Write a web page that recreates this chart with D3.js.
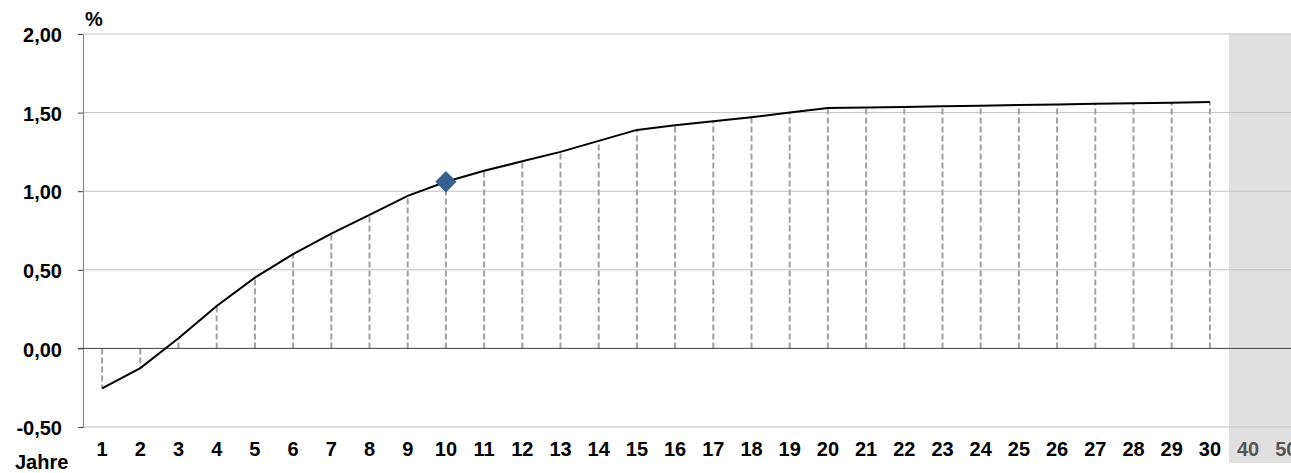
<!DOCTYPE html>
<html>
<head>
<meta charset="utf-8">
<script src="https://cdn.jsdelivr.net/npm/d3@7"></script>
<style>
  body { margin: 0; background: #fff; }
  svg { display: block; font-family: "Liberation Sans", Arial, sans-serif; }
</style>
</head>
<body>
<div id="chart"></div>
<script>
// categories (years), the last two sit in the grey extension zone
const years = ['1','2','3','4','5','6','7','8','9','10','11','12','13','14','15','16','17','18','19','20','21','22','23','24','25','26','27','28','29','30','40','50']
const extraYears = ['40', '50']
// curve values in %
const values = [-0.255, -0.125, 0.065, 0.27, 0.45, 0.60, 0.73, 0.85, 0.97, 1.06, 1.13, 1.19, 1.25, 1.32, 1.39, 1.42, 1.445, 1.47, 1.50, 1.53, 1.532, 1.536, 1.54, 1.544, 1.548, 1.552, 1.556, 1.56, 1.563, 1.567]
const markerYear = '10'
const markerValue = 1.06
const yTicks = [-0.5, 0, 0.5, 1, 1.5, 2]

const width = 1291, height = 473
const marginLeft = 83, plotTop = 34, plotBottom = 427

const svg = d3.select('#chart').append('svg')
  .attr('width', width)
  .attr('height', height)

const x = d3.scaleBand().domain(years).range([marginLeft, marginLeft + years.length * 38.2]).padding(0)
const y = d3.scaleLinear().domain([-0.5, 2]).range([plotBottom, plotTop])

const fmt = (d) => d3.format('.2f')(d).replace('.', ',').replace('−', '-')

// grey zone for 40 / 50 years
svg.append('rect')
  .attr('x', x(extraYears[0]))
  .attr('y', y(2))
  .attr('width', width - x(extraYears[0]))
  .attr('height', 463 - y(2))
  .attr('fill', '#e0e0e0')

// horizontal gridlines
svg.selectAll('.grid')
  .data(yTicks.filter((d) => d !== 0))
  .join('line')
  .attr('x1', marginLeft)
  .attr('x2', width)
  .attr('y1', (d) => y(d))
  .attr('y2', (d) => y(d))
  .attr('stroke', '#c0c0c0')
  .attr('stroke-width', 1)

// y axis
const yAxis = svg.append('g')
  .attr('transform', `translate(${marginLeft},0)`)
  .call(d3.axisLeft(y).tickValues(yTicks).tickSize(5).tickPadding(16).tickFormat(fmt))
yAxis.select('.domain').attr('stroke', '#808080')
yAxis.selectAll('.tick line').attr('stroke', '#404040')
yAxis.selectAll('.tick text')
  .attr('font-size', 20)
  .attr('font-weight', 'bold')
  .attr('fill', '#000')
  .attr('dy', '0.38em')
  .attr('font-family', '"Liberation Sans", Arial, sans-serif')

// dashed drop lines
svg.selectAll('.drop')
  .data(values)
  .join('line')
  .attr('x1', (d, i) => x(years[i]) + x.bandwidth() / 2)
  .attr('x2', (d, i) => x(years[i]) + x.bandwidth() / 2)
  .attr('y1', y(0))
  .attr('y2', (d) => y(d))
  .attr('stroke', '#a0a0a0')
  .attr('stroke-width', 2)
  .attr('stroke-dasharray', '6,3')

// zero line
svg.append('line')
  .attr('x1', marginLeft - 5)
  .attr('x2', width)
  .attr('y1', y(0))
  .attr('y2', y(0))
  .attr('stroke', '#404040')
  .attr('stroke-width', 1)

// curve
const line = d3.line()
  .x((d, i) => x(years[i]) + x.bandwidth() / 2)
  .y((d) => y(d))
svg.append('path')
  .datum(values)
  .attr('d', line)
  .attr('fill', 'none')
  .attr('stroke', '#000')
  .attr('stroke-width', 2)

// marker
svg.append('path')
  .attr('d', d3.symbol().type(d3.symbolDiamond2).size(290)())
  .attr('transform', `translate(${x(markerYear) + x.bandwidth() / 2},${y(markerValue)})`)
  .attr('fill', '#35618f')

// x labels
svg.selectAll('.xlab')
  .data(years)
  .join('text')
  .attr('x', (d) => x(d) + x.bandwidth() / 2)
  .attr('y', 456)
  .attr('text-anchor', 'middle')
  .attr('font-size', 20)
  .attr('font-weight', 'bold')
  .attr('fill', (d) => extraYears.includes(d) ? '#555' : '#000')
  .text((d) => d)

svg.append('text')
  .attr('x', 15)
  .attr('y', 469)
  .attr('font-size', 20)
  .attr('font-weight', 'bold')
  .text('Jahre')

svg.append('text')
  .attr('x', 85)
  .attr('y', 26)
  .attr('font-size', 20)
  .attr('font-weight', 'bold')
  .text('%')
</script>
</body>
</html>
